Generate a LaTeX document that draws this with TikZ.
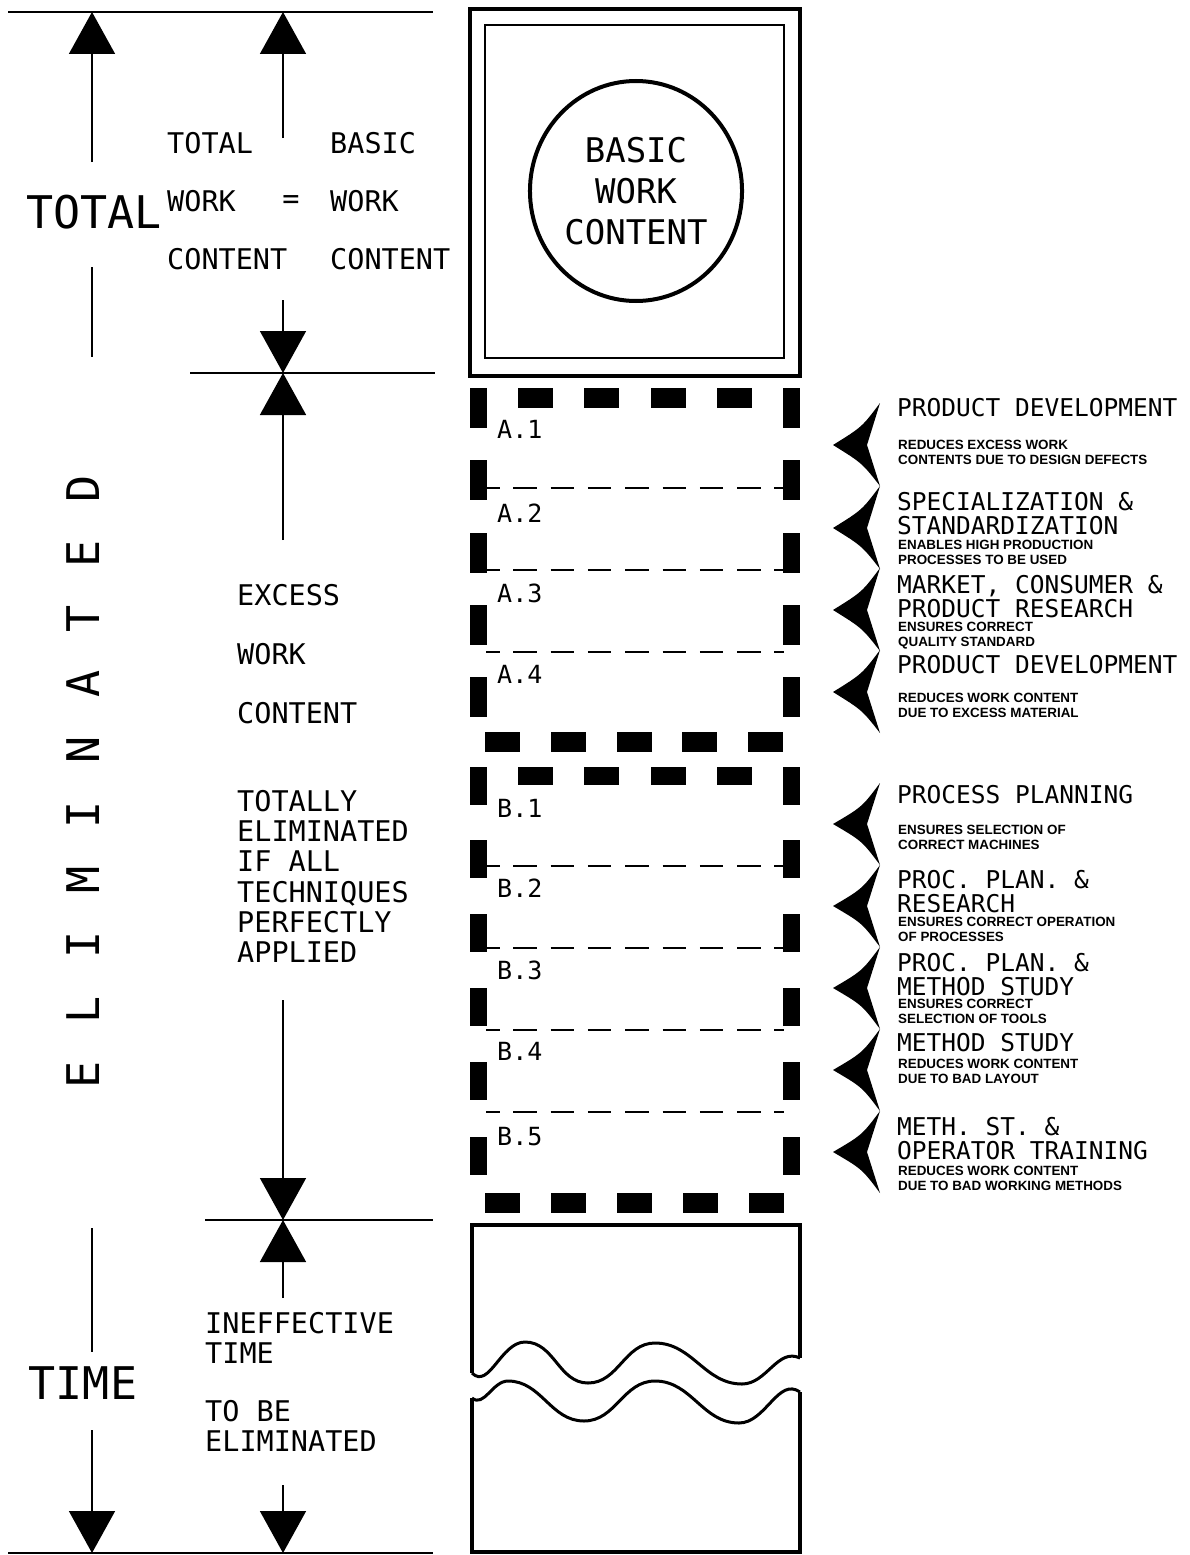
\documentclass[tikz,border=0pt]{standalone}
\usepackage{fontspec}
\usetikzlibrary{arrows.meta,shapes.geometric}
\newfontfamily\plotfont{DejaVu Sans Mono}
\newfontfamily\notefont{Liberation Sans}
\newcommand\gap{\kern38pt}

\begin{document}
\begin{tikzpicture}[x=1pt, y=-1pt, >={Triangle[length=42pt,width=46pt]},
	   dimline/.style={line width=1.6pt},
	   rule/.style={line width=2.4pt},
	   heavy/.style={line width=4.5pt},
	   wave/.style={line width=3pt},
	   divide/.style={line width=2.2pt, dash pattern=on 23.5pt off 13.8pt, dash phase=10pt},
	   big/.style={font={\plotfont\fontsize{45}{45}\selectfont}, inner sep=0pt},
	   mid/.style={font={\plotfont\fontsize{28.5}{#1}\selectfont}, inner sep=0pt, anchor=north west, align=left},
	   mid/.default=30,
	   tag/.style={font={\plotfont\fontsize{25}{25}\selectfont}, inner sep=0pt, anchor=west},
	   head/.style={font={\plotfont\fontsize{24.5}{23.8}\selectfont}, inner sep=0pt, anchor=north west, align=left},
	   note/.style={font={\notefont\bfseries\fontsize{13.4}{14.5}\selectfont}, inner sep=0pt, anchor=north west, align=left}]
	  \path[fill=white, use as bounding box] (0,0) rectangle (1189,1555);
	  % rules and dimension arrows
	  \draw[rule] (8,12) -- (433,12);
	  \draw[rule] (190,373) -- (435,373);
	  \draw[rule] (205,1220) -- (433,1220);
	  \draw[rule] (8,1553) -- (433,1553);
	  \coordinate (tl) at (92,12); \coordinate (tm) at (283,12);
	  \coordinate (hm1) at (283,373); \coordinate (hm2) at (283,1220);
	  \coordinate (bl) at (92,1553); \coordinate (bm) at (283,1553);
	  \coordinate (l1) at (92,162); \coordinate (l2) at (92,267); \coordinate (l3) at (92,357);
	  \coordinate (l4) at (92,1228); \coordinate (l5) at (92,1352); \coordinate (l6) at (92,1430);
	  \coordinate (m1) at (283,138); \coordinate (m2) at (283,300); \coordinate (m3) at (283,540);
	  \coordinate (m4) at (283,1000); \coordinate (m5) at (283,1298); \coordinate (m6) at (283,1485);
	  \draw[dimline,->] (l1) -- (tl);
	  \draw[dimline] (l2) -- (l3);
	  \draw[dimline] (l4) -- (l5);
	  \draw[dimline,->] (l6) -- (bl);
	  \draw[dimline,->] (m1) -- (tm);
	  \draw[dimline,->] (m2) -- (hm1);
	  \draw[dimline,->] (m3) -- (hm1);
	  \draw[dimline,->] (m4) -- (hm2);
	  \draw[dimline,->] (m5) -- (hm2);
	  \draw[dimline,->] (m6) -- (bm);
	  % left labels
	  \node[big] (totbig) at (94,212) {TOTAL};
	  \node[big] (timebig) at (83,1383) {TIME};
	  \node[big, rotate=90] (elim) at (83,782) {E\gap L\gap I\gap M\gap I\gap N\gap A\gap T\gap E\gap D};
	  \node[mid=58] (twc) at (167,132) {TOTAL\\WORK\\CONTENT};
	  \node[mid=58] (bwc) at (330,132) {BASIC\\WORK\\CONTENT};
	  \node[font={\plotfont\fontsize{28.5}{28.5}\selectfont}, inner sep=0pt] (eq) at (291,202) {=};
	  \node[mid=59] (ewc) at (237,584) {EXCESS\\WORK\\CONTENT};
	  \node[mid=30.3] (tea) at (237,790) {TOTALLY\\ELIMINATED\\IF ALL\\TECHNIQUES\\PERFECTLY\\APPLIED};
	  \node[mid] (inef) at (205,1312) {INEFFECTIVE\\TIME};
	  \node[mid] (tobe) at (205,1400) {TO BE\\ELIMINATED};
	  % basic work content
	  \draw[heavy] (470,9) rectangle (800,376);
	  \draw[rule] (485,25) rectangle (784,358);
	  \node[draw, ellipse, line width=4pt, minimum width=208pt, minimum height=220pt, align=center,
	        font={\plotfont\fontsize{34}{41}\selectfont}] (basic) at (636,191) {BASIC\\WORK\\CONTENT};
	  % excess work content A
	  \foreach \y in {388,460,533,605,677} {
	    \fill (470,\y) rectangle (487,\y+40);
	    \fill (783,\y) rectangle (800,\y+40);
	  }
	  \foreach \x in {518,584,651,717} \fill (\x,388) rectangle (\x+35,408);
	  \foreach \x in {485,551,617,682,748} \fill (\x,732) rectangle (\x+35,752);
	  \foreach \y in {488,570,652} \draw[divide] (486,\y) -- (784,\y);
	  \node[tag] (a1) at (497,429) {A.1};
	  \node[tag] (a2) at (497,513) {A.2};
	  \node[tag] (a3) at (497,593) {A.3};
	  \node[tag] (a4) at (497,674) {A.4};
	  % excess work content B
	  \foreach \y in {767,840,914,988,1062,1137} {
	    \fill (470,\y) rectangle (487,\y+38);
	    \fill (783,\y) rectangle (800,\y+38);
	  }
	  \foreach \x in {518,584,651,717} \fill (\x,767) rectangle (\x+35,785);
	  \foreach \x in {485,551,617,683,749} \fill (\x,1193) rectangle (\x+35,1213);
	  \foreach \y in {866,948,1030,1112} \draw[divide] (486,\y) -- (784,\y);
	  \node[tag] (b1) at (497,808) {B.1};
	  \node[tag] (b2) at (497,888) {B.2};
	  \node[tag] (b3) at (497,970) {B.3};
	  \node[tag] (b4) at (497,1051) {B.4};
	  \node[tag] (b5) at (497,1137) {B.5};
	  % techniques
	  \foreach \y in {403,486,568,650}
	    \fill (880,\y) .. controls (862,\y+24) .. (833,\y+42) .. controls (862,\y+60) .. (880,\y+83) -- (867,\y+42) -- cycle;
	  \foreach \y in {783,865,947,1029,1111}
	    \fill (880,\y) .. controls (862,\y+24) .. (833,\y+41) .. controls (862,\y+58) .. (880,\y+82) -- (867,\y+41) -- cycle;
	  \node[head] (pd1) at (897,398) {PRODUCT DEVELOPMENT};
	  \node[note] (pd1n) at (898,440) {REDUCES EXCESS WORK\\CONTENTS DUE TO DESIGN DEFECTS};
	  \node[head] (spec) at (897,492) {SPECIALIZATION \&\\STANDARDIZATION};
	  \node[note] (specn) at (898,540) {ENABLES HIGH PRODUCTION\\PROCESSES TO BE USED};
	  \node[head] (mkt) at (897,575) {MARKET, CONSUMER \&\\PRODUCT RESEARCH};
	  \node[note] (mktn) at (898,622) {ENSURES CORRECT\\QUALITY STANDARD};
	  \node[head] (pd2) at (897,655) {PRODUCT DEVELOPMENT};
	  \node[note] (pd2n) at (898,693) {REDUCES WORK CONTENT\\DUE TO EXCESS MATERIAL};
	  \node[head] (pp) at (897,785) {PROCESS PLANNING};
	  \node[note] (ppn) at (898,825) {ENSURES SELECTION OF\\CORRECT MACHINES};
	  \node[head] (ppr) at (897,870) {PROC. PLAN. \&\\RESEARCH};
	  \node[note] (pprn) at (898,917) {ENSURES CORRECT OPERATION\\OF PROCESSES};
	  \node[head] (ppm) at (897,953) {PROC. PLAN. \&\\METHOD STUDY};
	  \node[note] (ppmn) at (898,999) {ENSURES CORRECT\\SELECTION OF TOOLS};
	  \node[head] (ms) at (897,1033) {METHOD STUDY};
	  \node[note] (msn) at (898,1059) {REDUCES WORK CONTENT\\DUE TO BAD LAYOUT};
	  \node[head] (mot) at (897,1117) {METH. ST. \&\\OPERATOR TRAINING};
	  \node[note] (motn) at (898,1166) {REDUCES WORK CONTENT\\DUE TO BAD WORKING METHODS};
	  % ineffective time
	  \draw[heavy, line join=miter] (472,1373) -- (472,1225) -- (800,1225) -- (800,1358);
	  \draw[wave] (472,1373) to[out=-45,in=180] (525,1342) to[out=0,in=180] (588,1383)
	    to[out=0,in=180] (655,1343) to[out=0,in=180] (742,1384) to[out=0,in=155] (800,1358);
	  \draw[wave] (472,1398) to[out=-40,in=180] (508,1381) to[out=0,in=180] (584,1421)
	    to[out=0,in=180] (655,1381) to[out=0,in=180] (739,1423) to[out=0,in=145] (800,1392);
	  \draw[heavy] (800,1392) -- (800,1552) -- (472,1552) -- (472,1398);
	\end{tikzpicture}
\end{document}
